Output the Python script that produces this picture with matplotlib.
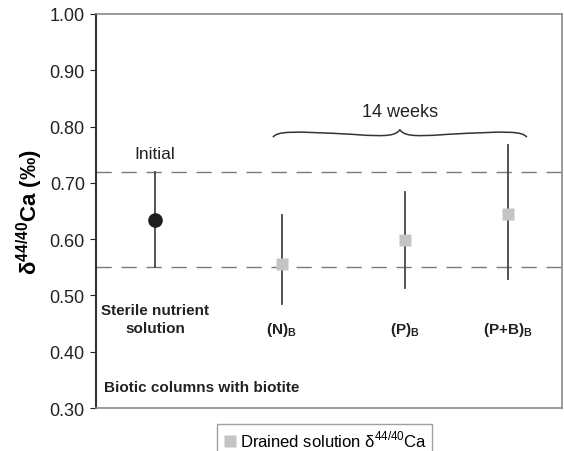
import matplotlib.pyplot as plt
from matplotlib.path import Path
from matplotlib.patches import PathPatch
from matplotlib.lines import Line2D

plt.rcParams['font.family'] = ['Liberation Sans', 'DejaVu Sans']

# ============== data ==============
labels = ["Initial", "(N)$_\\mathregular{B}$", "(P)$_\\mathregular{B}$", "(P+B)$_\\mathregular{B}$"]
values = [0.634, 0.555, 0.599, 0.645]
err_low = [0.550, 0.485, 0.514, 0.530]
err_high = [0.720, 0.643, 0.684, 0.767]
ref_lines = [0.72, 0.55]

# horizontal layout of the groups (axes fraction)
xpos = [0.127, 0.399, 0.663, 0.884]

fig = plt.figure(figsize=(5.64, 4.52), dpi=100)
ax = fig.add_axes([0.170, 0.095, 0.826, 0.872])

for y in ref_lines:
    ax.axhline(y, color='#7a7a7a', lw=1.0, dashes=(11, 7), zorder=1)

for i in range(len(values)):
    ax.plot([xpos[i], xpos[i]], [err_low[i], err_high[i]], color='#444444', lw=1.3, zorder=2)
    if i == 0:
        ax.plot(xpos[i], values[i], 'o', color='#1e1e1e', ms=9.5, zorder=3)
    else:
        ax.plot(xpos[i], values[i], 's', color='#c4c4c4', ms=8, mec='none', zorder=3)

# ============== texts ==============
ax.text(xpos[0], 0.752, "Initial", ha='center', va='center', fontsize=12.5, color='#222222')
ax.text(xpos[0], 0.458, "Sterile nutrient\nsolution", ha='center', va='center',
        fontsize=11, fontweight='bold', color='#222222', linespacing=1.35)
for i in range(1, len(labels)):
    ax.text(xpos[i], 0.440, labels[i], ha='center', va='center', fontsize=11,
            fontweight='bold', color='#222222')
ax.text(0.018, 0.337, "Biotic columns with biotite", ha='left', va='center',
        fontsize=11, fontweight='bold', color='#222222')
ax.text(0.652, 0.826, "14 weeks", ha='center', va='center', fontsize=13, color='#222222')

# curly brace over the 14-week columns
x0, x1 = xpos[1] - 0.019, xpos[3] + 0.041
xm = (x0 + x1) / 2
yb, ya, yt = 0.781, 0.792, 0.794
verts = [(x0, yb), (x0 + 0.01, ya), (x0 + 0.04, ya), (xm - 0.1, ya - 0.006),
         (xm - 0.02, yb), (xm - 0.01, yb + 0.004), (xm, yt),
         (xm + 0.01, yb + 0.004), (xm + 0.02, yb), (xm + 0.1, ya - 0.006),
         (x1 - 0.04, ya), (x1 - 0.01, ya), (x1, yb)]
codes = [Path.MOVETO] + [Path.CURVE4] * 12
ax.add_patch(PathPatch(Path(verts, codes), fc='none', ec='#333333', lw=1.1))

# ============== axes ==============
ax.set_xlim(0, 1)
ax.set_ylim(0.30, 1.00)
ax.set_yticks([0.30, 0.40, 0.50, 0.60, 0.70, 0.80, 0.90, 1.00])
ax.set_yticklabels(["%.2f" % t for t in ax.get_yticks()])
ax.set_xticks([])
ax.tick_params(axis='y', direction='out', length=4, labelsize=13, colors='#222222', pad=4)
for s in ['top', 'right', 'bottom']:
    ax.spines[s].set_color('#8a8a8a')
    ax.spines[s].set_linewidth(1.2)
ax.spines['left'].set_color('#333333')
ax.spines['left'].set_linewidth(1.5)
ax.set_ylabel("δ$^{\\mathregular{44/40}}$Ca (‰)", fontsize=16, fontweight='bold', labelpad=3)

handle = Line2D([], [], marker='s', color='#c4c4c4', ls='none', ms=8, mec='none')
fig.legend([handle], ["Drained solution δ$^{\\mathregular{44/40}}$Ca"], loc='upper center',
           bbox_to_anchor=(0.575, 0.078), fontsize=12, frameon=True, fancybox=False,
           edgecolor='#888888', handletextpad=0.1, borderpad=0.3, handlelength=1.0)

fig.savefig("out.png", dpi=100)
